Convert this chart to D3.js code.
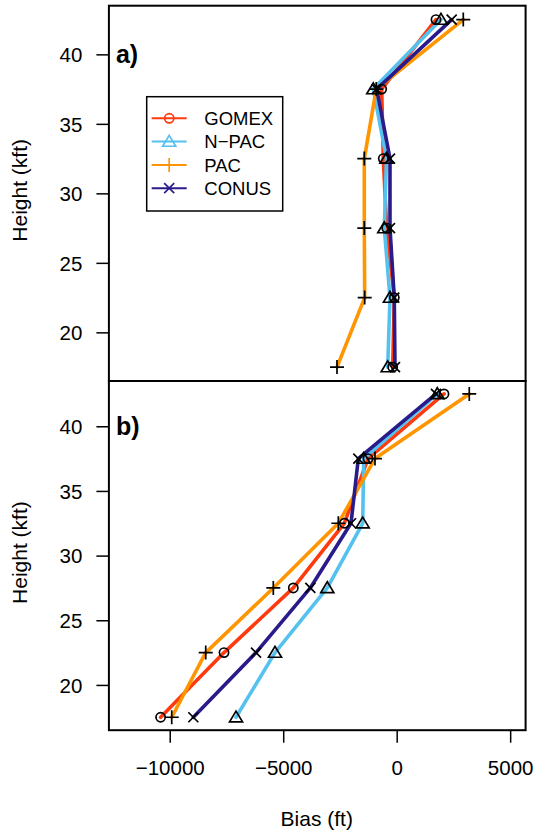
<!DOCTYPE html>
<html>
<head>
<meta charset="utf-8">
<script src="https://cdn.jsdelivr.net/npm/d3@7"></script>
<style>
  html, body { margin: 0; padding: 0; background: #fff; }
  svg { display: block; }
  text { font-family: "Liberation Sans", Arial, Helvetica, sans-serif; fill: #000; }
</style>
</head>
<body>
<svg id="chart" width="534" height="833"></svg>
<script>
// ---------- data ----------
const heights = [17.5, 22.5, 27.5, 32.5, 37.5, 42.5];
const seriesNames = ["GOMEX", "N\u2212PAC", "PAC", "CONUS"];
const seriesColors = ["#FF3A0F", "#55C1EE", "#FF9500", "#2A1B8A"];
const seriesShapes = ["circle", "triangle", "plus", "cross"];

// panel a) bias (ft) at each height
const aGOMEX = [-176, -106, -440, -590, -661, 1731];
const aNPAC  = [-396, -295, -546, -450, -1031, 1951];
const aPAC   = [-2630, -1410, -1427, -1427, -900, 2934];
const aCONUS = [-75, -106, -295, -295, -881, 2423];

// panel b) bias (ft) at each height
const bGOMEX = [-10402, -7608, -4555, -2308, -1264, 2084];
const bNPAC  = [-7079, -5361, -3057, -1498, -1450, 1789];
const bPAC   = [-9912, -8414, -5436, -2572, -956, 3198];
const bCONUS = [-8960, -6198, -3806, -2013, -1691, 1731];

const xTicks = [-10000, -5000, 0, 5000];
const yTicks = [20, 25, 30, 35, 40];
const panelLabels = ["a)", "b)"];
const xTitle = "Bias (ft)";
const yTitle = "Height (kft)";

// ---------- layout ----------
const svg = d3.select("#chart");
const left = 108.9, right = 525.6;
const axisFont = 20.5;
const panels = [
  { top: 5.7, bottom: 381, series: [aGOMEX, aNPAC, aPAC, aCONUS], label: panelLabels[0], legend: true },
  { top: 381, bottom: 730.2, series: [bGOMEX, bNPAC, bPAC, bCONUS], label: panelLabels[1], legend: false }
];

function expand(lo, hi) { const d = (hi - lo) * 0.04; return [lo - d, hi + d]; }
const x = d3.scaleLinear().domain(expand(-12000, 5000)).range([left, right]);
const yDom = expand(17.5, 42.5);

function symbolPath(shape, cx, cy) {
  if (shape === "triangle") {
    const h = 6.2;
    return `M${cx},${cy - h}L${cx + h * 1.05},${cy + h * 0.75}L${cx - h * 1.05},${cy + h * 0.75}Z`;
  }
  if (shape === "plus") {
    const p = 7;
    return `M${cx - p},${cy}L${cx + p},${cy}M${cx},${cy - p}L${cx},${cy + p}`;
  }
  if (shape === "cross") {
    const c = 5;
    return `M${cx - c},${cy - c}L${cx + c},${cy + c}M${cx - c},${cy + c}L${cx + c},${cy - c}`;
  }
}

function drawMarker(g, shape, cx, cy, color) {
  if (shape === "circle") {
    g.append("circle").attr("cx", cx).attr("cy", cy).attr("r", 4.6)
      .attr("fill", "none").attr("stroke", color).attr("stroke-width", 1.7);
  } else {
    g.append("path").attr("d", symbolPath(shape, cx, cy))
      .attr("fill", "none").attr("stroke", color).attr("stroke-width", 1.7);
  }
}

panels.forEach((p) => {
  const y = d3.scaleLinear().domain(yDom).range([p.bottom, p.top]);
  const g = svg.append("g");

  // lines
  p.series.forEach((vals, i) => {
    const line = d3.line().x((d) => x(d)).y((d, j) => y(heights[j]));
    g.append("path").datum(vals).attr("d", line)
      .attr("fill", "none").attr("stroke", seriesColors[i])
      .attr("stroke-width", 3.6).attr("stroke-linejoin", "round").attr("stroke-linecap", "round");
  });
  // markers
  p.series.forEach((vals, i) => {
    vals.forEach((v, j) => drawMarker(g, seriesShapes[i], x(v), y(heights[j]), "#000"));
  });

  // frame
  g.append("rect").attr("x", left).attr("y", p.top).attr("width", right - left)
    .attr("height", p.bottom - p.top).attr("fill", "none").attr("stroke", "#000").attr("stroke-width", 2);

  // y axis
  const yAxis = d3.axisLeft(y).tickValues(yTicks).tickSize(12).tickPadding(14).tickFormat(d3.format("d"));
  const ya = g.append("g").attr("transform", `translate(${left - 0.5},0)`).call(yAxis);
  ya.select(".domain").remove();
  ya.selectAll("line").attr("stroke", "#000").attr("stroke-width", 1.5);
  ya.selectAll("text").attr("font-size", axisFont).attr("font-family", "Liberation Sans, Arial, sans-serif").attr("dy", "0.36em");

  // y title
  g.append("text").attr("transform", `translate(21,${(p.top + p.bottom) / 2 - 3}) rotate(-90)`)
    .attr("text-anchor", "middle").attr("dominant-baseline", "middle").attr("font-size", 21).text(yTitle);

  // panel label
  g.append("text").attr("x", left + 7).attr("y", y(40) + 9).attr("font-size", 25)
    .attr("font-weight", "bold").text(p.label);

  // legend
  if (p.legend) {
    const lx = 146.7, ly = 96.7, lw = 136, lh = 114.3;
    const lg = svg.append("g");
    lg.append("rect").attr("x", lx).attr("y", ly).attr("width", lw).attr("height", lh)
      .attr("fill", "#fff").attr("stroke", "#000").attr("stroke-width", 1.5);
    seriesNames.forEach((name, i) => {
      const cy = 118.3 + i * 23.3;
      lg.append("line").attr("x1", 151.7).attr("x2", 186.7).attr("y1", cy).attr("y2", cy)
        .attr("stroke", seriesColors[i]).attr("stroke-width", 2);
      drawMarker(lg, seriesShapes[i], 169.2, cy, seriesColors[i]);
      lg.append("text").attr("x", 204.3).attr("y", cy).attr("dy", "0.36em")
        .attr("font-size", 18.5).text(name);
    });
  }
});

// x axis (bottom panel)
const xAxis = d3.axisBottom(x).tickValues(xTicks).tickSize(12).tickPadding(18)
  .tickFormat((d) => d < 0 ? "\u2212" + Math.abs(d) : String(d));
const xa = svg.append("g").attr("transform", `translate(0,${panels[1].bottom + 0.5})`).call(xAxis);
xa.select(".domain").remove();
xa.selectAll("line").attr("stroke", "#000").attr("stroke-width", 1.5);
xa.selectAll("text").attr("font-size", axisFont).attr("font-family", "Liberation Sans, Arial, sans-serif");

svg.append("text").attr("x", (left + right) / 2 - 0.5).attr("y", 826)
  .attr("text-anchor", "middle").attr("font-size", 21).text(xTitle);
</script>
</body>
</html>
